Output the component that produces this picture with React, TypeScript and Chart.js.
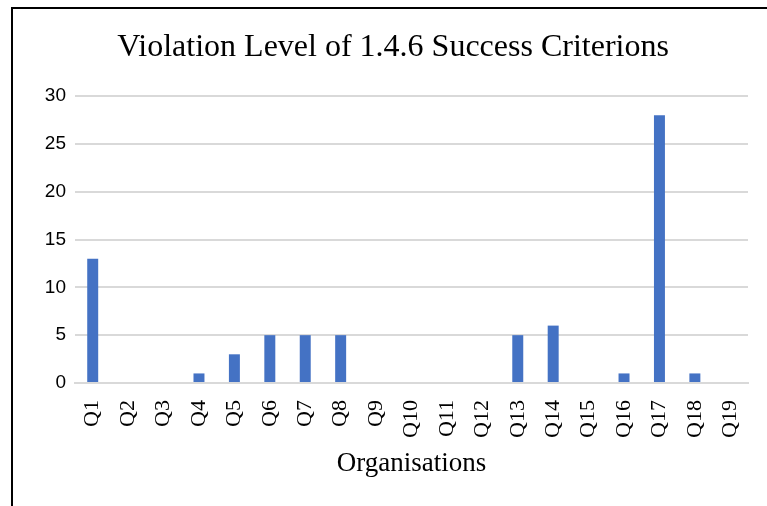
import React, { useEffect, useRef } from "react";
import { Chart, registerables } from "chart.js";

Chart.register(...registerables);

const categories = ["Q1","Q2","Q3","Q4","Q5","Q6","Q7","Q8","Q9","Q10","Q11","Q12","Q13","Q14","Q15","Q16","Q17","Q18","Q19"];
const values = [13, 0, 0, 1, 3, 5, 5, 5, 0, 0, 0, 0, 5, 6, 0, 1, 28, 1, 0];
const yTicks = [0, 5, 10, 15, 20, 25, 30];
const titleText = "Violation Level of 1.4.6 Success Criterions";
const xTitle = "Organisations";

const titleShift = {
  id: "titleShift",
  afterLayout(chart: any) {
    if (chart.titleBlock) {
      chart.titleBlock.left = 25;
    }
  },
};

export default function App() {
  const ref = useRef<HTMLCanvasElement | null>(null);
  useEffect(() => {
    if (!ref.current) return;
    const chart = new Chart(ref.current, {
      type: "bar",
      data: {
        labels: categories,
        datasets: [
          {
            data: values,
            backgroundColor: "#4472C4",
            borderWidth: 0,
            categoryPercentage: 1,
            barPercentage: 0.31,
          },
        ],
      },
      plugins: [titleShift],
      options: {
        animation: false,
        responsive: false,
        maintainAspectRatio: false,
        layout: { padding: { left: 0, right: 19, top: 0, bottom: 0 } },
        plugins: {
          legend: { display: false },
          tooltip: { enabled: false },
          title: {
            display: true,
            text: titleText,
            color: "#000",
            font: { family: "'Liberation Serif', 'Times New Roman', serif", size: 32, weight: "normal" },
            padding: { top: 19.5, bottom: 29.1 },
          },
        },
        scales: {
          x: {
            grid: { display: false, drawTicks: false },
            border: { display: true, color: "#d9d9d9", width: 2 },
            ticks: {
              color: "#000",
              font: { family: "'Liberation Serif', 'Times New Roman', serif", size: 22 },
              minRotation: 90,
              maxRotation: 90,
              autoSkip: false,
              padding: 17,
            },
            title: {
              display: true,
              text: xTitle,
              color: "#000",
              font: { family: "'Liberation Serif', 'Times New Roman', serif", size: 27 },
              padding: { top: 0, bottom: 25.8 },
            },
            afterFit: (s: any) => {
              s.height = 123;
              s.paddingLeft = 0;
              s.paddingRight = 0;
            },
          },
          y: {
            min: 0,
            max: 30,
            afterBuildTicks: (s: any) => {
              s.ticks = yTicks.map((v) => ({ value: v }));
            },
            grid: { color: "#d9d9d9", lineWidth: 2, drawTicks: false },
            border: { display: false },
            ticks: {
              color: "#000",
              font: { family: "'Liberation Sans', Arial, sans-serif", size: 19 },
              padding: 9,
            },
            afterFit: (s: any) => {
              s.width = 62;
            },
          },
        },
      },
    });
    return () => chart.destroy();
  }, []);
  return (
    <div
      style={{
        position: "absolute",
        left: 11,
        top: 7,
        width: 756,
        height: 499,
        borderLeft: "2px solid #000",
        borderTop: "2px solid #000",
        background: "#fff",
        overflow: "hidden",
      }}
    >
      <canvas ref={ref} width={754} height={497} style={{ display: "block", width: 754, height: 497 }} />
    </div>
  );
}
